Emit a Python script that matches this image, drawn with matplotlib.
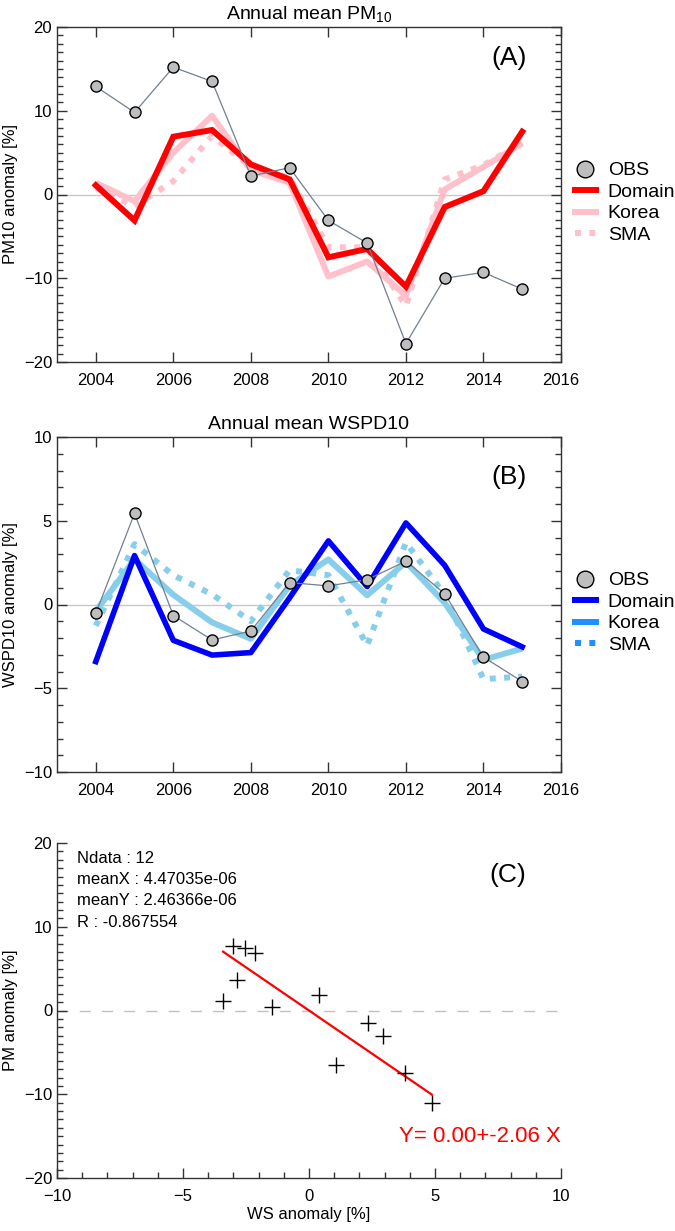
import numpy as np
import matplotlib
matplotlib.use("Agg")
import matplotlib.pyplot as plt
from matplotlib.lines import Line2D
from matplotlib.ticker import MultipleLocator

plt.rcParams['font.family'] = ['Liberation Sans', 'DejaVu Sans']
plt.rcParams['mathtext.fontset'] = 'custom'
plt.rcParams['mathtext.rm'] = 'Liberation Sans'
plt.rcParams['mathtext.it'] = 'Liberation Sans:italic'

# ---------------- data ----------------
years = [2004, 2005, 2006, 2007, 2008, 2009, 2010, 2011, 2012, 2013, 2014, 2015]

pm_obs = [12.9, 9.8, 15.2, 13.5, 2.2, 3.2, -3.1, -5.8, -17.8, -10.0, -9.3, -11.3]
pm_domain = [1.1, -3.1, 6.9, 7.7, 3.6, 1.8, -7.5, -6.5, -11.0, -1.5, 0.4, 7.5]
pm_korea = [1.4, -0.8, 5.0, 9.4, 2.9, 1.4, -9.8, -8.0, -12.1, 0.6, 3.3, 6.1]
pm_sma = [0.8, -1.4, 1.6, 7.0, 3.3, 2.0, -6.3, -6.3, -13.3, 1.8, 3.5, 6.2]

ws_obs = [-0.53, 5.44, -0.66, -2.12, -1.58, 1.31, 1.11, 1.48, 2.59, 0.64, -3.14, -4.6]
ws_domain = [-3.41, 2.92, -2.14, -3.02, -2.87, 0.4, 3.80, 1.07, 4.87, 2.34, -1.46, -2.53]
ws_korea = [-0.4, 2.7, 0.58, -1.07, -2.05, 1.15, 2.69, 0.55, 2.53, 0.1, -3.3, -2.63]
ws_sma = [-1.27, 3.6, 1.75, 0.6, -1.0, 2.05, 1.75, -2.44, 3.7, 0.58, -4.46, -4.3]

series_labels = ['OBS', 'Domain', 'Korea', 'SMA']
stats_lines = ['Ndata : 12', 'meanX : 4.47035e-06', 'meanY : 2.46366e-06', 'R : -0.867554']
fit_intercept = 0.00
fit_slope = -2.06

# ---------------- figure ----------------
W, H = 675, 1231
fig = plt.figure(figsize=(W / 100, H / 100), dpi=100)

def rect(top, bottom, left=57, right=561):
    return [left / W, 1 - bottom / H, (right - left) / W, (bottom - top) / H]

axA = fig.add_axes(rect(27, 362))
axB = fig.add_axes(rect(437, 772))
axC = fig.add_axes(rect(843, 1178))

TICK_FS = 12
OBS_LINE = '#708090'

def style_time_axis(ax, ylim, ymajor):
    ax.set_xlim(2003, 2016)
    ax.set_ylim(*ylim)
    ax.xaxis.set_major_locator(MultipleLocator(2))
    ax.yaxis.set_major_locator(MultipleLocator(ymajor))
    ax.yaxis.set_minor_locator(MultipleLocator(1))
    ax.tick_params(which='both', direction='in', top=True, right=True,
                   labelsize=TICK_FS, color='#333333', width=1)
    ax.tick_params(which='major', length=7)
    ax.tick_params(which='minor', length=4)
    ax.tick_params(axis='x', which='major', pad=8)
    for s in ax.spines.values():
        s.set_color('#333333')
        s.set_linewidth(1.0)
    ax.axhline(0, color='#c8c8c8', lw=1.0, zorder=1)

dotted = (0, (1.0, 1.4))

# ---- Panel A ----
style_time_axis(axA, (-20, 20), 10)
axA.plot(years, pm_korea, color='#ffc0cb', lw=4.3, solid_capstyle='butt', zorder=2)
axA.plot(years, pm_sma, color='#ffc0cb', lw=4.3, ls=dotted, dash_capstyle='butt', zorder=2)
axA.plot(years, pm_domain, color='#ff0000', lw=4.3, solid_joinstyle='miter', zorder=3)
axA.plot(years, pm_obs, color=OBS_LINE, lw=0.9, marker='o', ms=8,
         mfc='#bebebe', mec='black', mew=1.0, zorder=4)
axA.set_title('Annual mean PM$_{10}$', fontsize=14, pad=6)
axA.set_ylabel('PM10 anomaly [%]', fontsize=12, labelpad=4)
axA.text(2014.65, 16.3, '(A)', fontsize=19, ha='center', va='center')

hA = [Line2D([], [], ls='none', marker='o', ms=12, mfc='#bebebe', mec='black', mew=1.0),
      Line2D([], [], color='#ff0000', lw=4.3),
      Line2D([], [], color='#ffc0cb', lw=4.3),
      Line2D([], [], color='#ffc0cb', lw=4.3, ls=dotted)]
axA.legend(hA, series_labels, loc='center left', bbox_to_anchor=(1.0, 0.475),
           frameon=False, fontsize=14, handlelength=1.1, handletextpad=0.6,
           labelspacing=0.2, borderaxespad=0.3)

# ---- Panel B ----
style_time_axis(axB, (-10, 10), 5)
axB.plot(years, ws_korea, color='#87ceeb', lw=4.3, solid_capstyle='butt', zorder=2)
axB.plot(years, ws_sma, color='#87ceeb', lw=4.3, ls=dotted, dash_capstyle='butt', zorder=2)
axB.plot(years, ws_domain, color='#0000ff', lw=4.0, zorder=3)
axB.plot(years, ws_obs, color=OBS_LINE, lw=0.9, marker='o', ms=8,
         mfc='#bebebe', mec='black', mew=1.0, zorder=4)
axB.set_title('Annual mean WSPD10', fontsize=14, pad=6)
axB.set_ylabel('WSPD10 anomaly [%]', fontsize=12, labelpad=4)
axB.text(2014.65, 7.6, '(B)', fontsize=19, ha='center', va='center')

hB = [Line2D([], [], ls='none', marker='o', ms=12, mfc='#bebebe', mec='black', mew=1.0),
      Line2D([], [], color='#0000ff', lw=4.3),
      Line2D([], [], color='#1e90ff', lw=4.3),
      Line2D([], [], color='#1e90ff', lw=4.3, ls=dotted)]
axB.legend(hB, series_labels, loc='center left', bbox_to_anchor=(1.0, 0.475),
           frameon=False, fontsize=14, handlelength=1.1, handletextpad=0.6,
           labelspacing=0.2, borderaxespad=0.3)

# ---- Panel C ----
axC.set_xlim(-10, 10)
axC.set_ylim(-20, 20)
axC.xaxis.set_major_locator(MultipleLocator(5))
axC.xaxis.set_minor_locator(MultipleLocator(1))
axC.yaxis.set_major_locator(MultipleLocator(10))
axC.yaxis.set_minor_locator(MultipleLocator(1))
axC.tick_params(which='both', direction='in', labelsize=TICK_FS, color='#333333', width=1)
axC.tick_params(which='major', length=7)
axC.tick_params(which='minor', length=4)
axC.tick_params(axis='x', which='major', pad=8)
axC.spines['top'].set_visible(False)
axC.spines['right'].set_visible(False)
for s in ('left', 'bottom'):
    axC.spines[s].set_color('#333333')
    axC.spines[s].set_linewidth(1.0)
axC.axhline(0, color='#c0c0c0', lw=1.0, ls=(0, (8, 8)), zorder=1)
axC.plot(ws_domain, pm_domain, ls='none', marker='+', ms=11, mew=1.0, color='black', zorder=3)
xr = np.array([min(ws_domain), max(ws_domain)])
axC.plot(xr, fit_intercept + fit_slope * xr, color='#ff0000', lw=1.6, zorder=2)
axC.set_xlabel('WS anomaly [%]', fontsize=12, labelpad=2)
axC.set_ylabel('PM anomaly [%]', fontsize=12, labelpad=4)
for i, s in enumerate(stats_lines):
    axC.text(0.04, 0.955 - i * 0.064, s, transform=axC.transAxes, fontsize=12,
             ha='left', va='center')
axC.text(7.9, 16.2, '(C)', fontsize=19, ha='center', va='center')
axC.text(10, -15.1, 'Y= %.2f+%.2f X' % (fit_intercept, fit_slope), color='#ff0000',
         fontsize=16, ha='right', va='center')

fig.savefig('out.png', dpi=100)
